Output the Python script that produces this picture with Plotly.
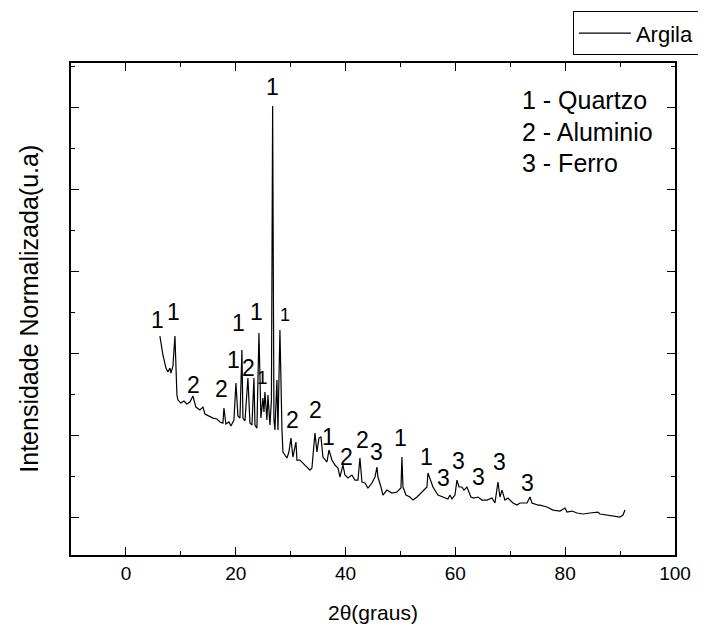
import plotly.graph_objects as go

# 2theta (degrees) and normalized intensity (arbitrary units)
two_theta = [6.19, 6.74, 7.29, 7.65, 8.01, 8.20, 8.56, 8.93, 9.29, 9.47, 10.02, 10.56, 11.11, 11.66,
             12.20, 12.75, 13.48, 14.03, 14.39, 15.12, 15.85, 16.58, 17.12, 17.67, 17.85, 18.21,
             18.76, 19.13, 19.67, 20.04, 20.40, 20.77, 21.13, 21.31, 21.68, 22.22, 22.59, 22.95,
             23.32, 23.50, 23.86, 24.23, 24.59, 24.95, 25.14, 25.32, 25.68, 25.87, 26.23, 26.50,
             26.72, 26.96, 27.14, 27.50, 27.69, 28.05, 28.23, 28.42, 28.60, 29.33, 29.69, 30.05,
             30.42, 30.97, 31.15, 31.69, 32.60, 33.52, 33.88, 34.43, 34.79, 35.15, 35.52, 35.88,
             36.61, 36.98, 37.52, 38.07, 38.62, 38.98, 39.53, 39.89, 40.44, 41.17, 41.71, 42.26,
             42.62, 42.99, 43.53, 44.08, 44.81, 45.36, 45.72, 45.90, 46.45, 46.81, 47.54, 48.45,
             49.36, 49.73, 50.09, 50.27, 50.46, 51.00, 51.73, 52.28, 53.01, 53.92, 54.83, 55.01,
             55.37, 55.92, 56.83, 57.74, 58.65, 59.02, 59.38, 59.93, 60.29, 60.66, 61.20, 61.57,
             62.11, 62.84, 63.39, 64.12, 64.85, 65.76, 66.67, 67.21, 67.76, 68.12, 68.49, 69.03,
             69.58, 70.49, 71.22, 71.77, 73.04, 73.59, 73.95, 75.05, 75.41, 76.68, 77.78, 79.05,
             79.96, 80.33, 81.24, 82.15, 83.24, 84.52, 85.97, 86.34, 87.61, 88.71, 89.98, 90.53,
             90.89]
intensity = [2207, 1976, 1817, 1768, 1817, 1756, 1841, 2207, 1488, 1427, 1390, 1415, 1378, 1402,
             1476, 1341, 1305, 1341, 1256, 1232, 1207, 1195, 1159, 1146, 1329, 1134,
             1159, 1110, 1183, 1634, 1232, 1207, 2037, 1207, 1171, 1695, 1146, 1122,
             1695, 1122, 1085, 2244, 1207, 1451, 1280, 1524, 1183, 1488, 1122, 1427,
             5012, 1183, 1061, 1671, 1061, 2280, 1427, 1061, 793, 720, 793, 963,
             732, 915, 695, 695, 634, 573, 598, 1024, 793, 963, 976, 732,
             671, 817, 695, 634, 598, 488, 634, 512, 476, 512, 451, 451,
             720, 427, 415, 354, 415, 488, 610, 488, 366, 268, 329, 293,
             305, 329, 354, 732, 366, 268, 244, 207, 244, 305, 366, 537,
             476, 366, 268, 244, 220, 268, 220, 268, 451, 366, 366, 329,
             366, 244, 232, 244, 207, 207, 232, 171, 427, 244, 329, 207,
             232, 171, 146, 171, 171, 244, 171, 146, 146, 122, 85, 73,
             110, 61, 73, 49, 37, 49, 61, 37, 24, 12, 0, 24,
             85]

# peak labels: text, 2theta position, intensity position, font size
peak_text = ["1", "1", "2", "2", "1", "1", "2", "1", "1", "1", "1", "2", "2", "1", "2", "2", "3",
             "1", "1", "3", "3", "3", "3", "3"]
peak_x = [5.83, 8.74, 12.39, 17.49, 20.58, 19.67, 22.40, 24.95, 23.86, 26.78, 28.96, 30.42, 34.61,
          36.98, 40.26, 43.17, 45.72, 50.09, 54.83, 57.92, 60.66, 64.30, 68.12, 73.22]
peak_y = [2402, 2500, 1610, 1561, 2366, 1915, 1817, 1707, 2500, 5244, 2463, 1183, 1305,
          976, 732, 939, 793, 963, 732, 476, 683, 488, 671, 415]
peak_size = [23, 23, 23, 23, 23, 23, 23, 19, 23, 23, 18, 23, 23, 23, 23, 23, 23,
             23, 23, 23, 23, 23, 23, 23]

key_lines = ["1 - Quartzo", "2 - Aluminio", "3 - Ferro"]

x_ticks = [0, 20, 40, 60, 80, 100]

FONT = "Liberation Sans, Arial, sans-serif"

fig = go.Figure()
fig.add_trace(go.Scatter(x=two_theta, y=intensity, mode="lines", name="Argila",
                         line=dict(color="black", width=1.2)))

annotations = []
for t, x, y, s in zip(peak_text, peak_x, peak_y, peak_size):
    annotations.append(dict(x=x, y=y, xref="x", yref="y", text=t, showarrow=False,
                            font=dict(size=s, color="black", family=FONT),
                            xanchor="center", yanchor="middle"))

for i, line in enumerate(key_lines):
    annotations.append(dict(x=0.743, y=(555 - (100 + 31.5 * i)) / 492,
                            xref="paper", yref="paper", text=line, showarrow=False,
                            font=dict(size=25, color="black", family=FONT),
                            xanchor="left", yanchor="middle"))

annotations.append(dict(x=-0.07, y=0.5, xref="paper", yref="paper",
                        text="Intensidade Normalizada(u.a)", showarrow=False, textangle=-90,
                        font=dict(size=25, color="black", family=FONT),
                        xanchor="center", yanchor="middle"))
annotations.append(dict(x=0.5, y=-0.116, xref="paper", yref="paper",
                        text="2θ(graus)", showarrow=False,
                        font=dict(size=21, color="black", family=FONT),
                        xanchor="center", yanchor="middle"))

# the page body adds an 8 px offset, so the figure is 8 px smaller and shifted
fig.update_layout(
    width=698, height=627,
    margin=dict(l=63, r=31, t=55, b=80, autoexpand=False),
    paper_bgcolor="white", plot_bgcolor="white",
    font=dict(family=FONT, color="black"),
    showlegend=True,
    legend=dict(x=0.831, y=1.105, xanchor="left", yanchor="top",
                bordercolor="black", borderwidth=1, bgcolor="white",
                font=dict(size=22, color="black", family=FONT),
                itemwidth=52, tracegroupgap=0),
    annotations=annotations,
    xaxis=dict(range=[-10, 100], tickvals=x_ticks, ticktext=[str(v) for v in x_ticks],
               ticks="inside", ticklen=8, tickwidth=1, tickcolor="black",
               showline=True, linecolor="black", linewidth=1.5, mirror="ticks",
               showgrid=False, zeroline=False,
               tickfont=dict(size=19, color="black", family=FONT),
               minor=dict(dtick=10, tick0=0, ticks="inside", ticklen=4, tickcolor="black", showgrid=False)),
    yaxis=dict(range=[-463, 5537], tick0=0, dtick=1000, showticklabels=False,
               ticks="inside", ticklen=8, tickwidth=1, tickcolor="black",
               showline=True, linecolor="black", linewidth=1.5, mirror="ticks",
               showgrid=False, zeroline=False,
               minor=dict(dtick=500, tick0=0, ticks="inside", ticklen=4, tickcolor="black", showgrid=False)),
)

fig.write_html("out.html")
